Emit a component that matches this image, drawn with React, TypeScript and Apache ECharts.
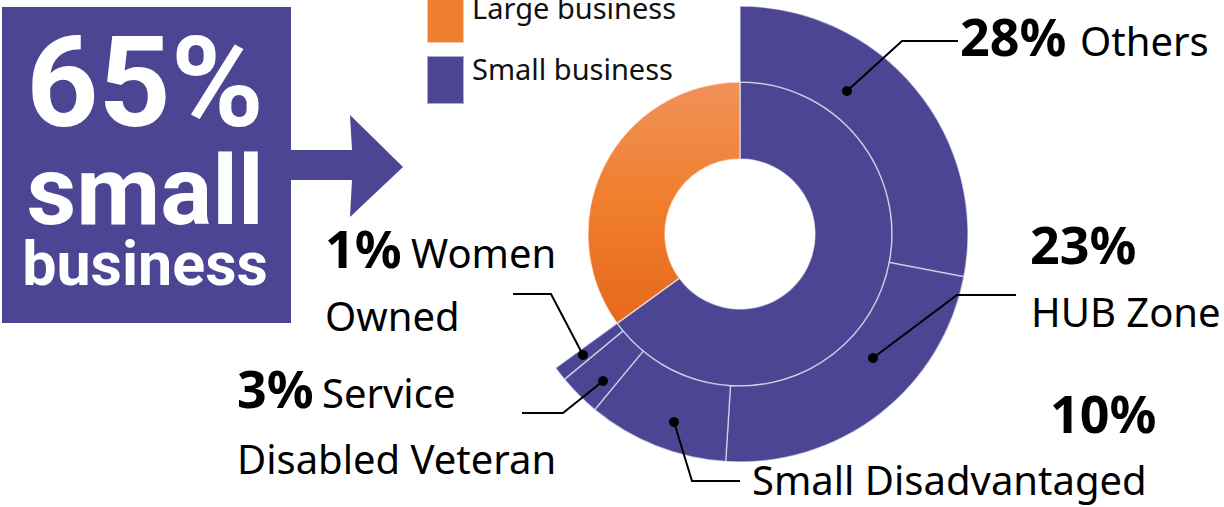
import React, { useEffect, useRef } from "react";
import * as echarts from "echarts";

// ---- data ----
const INNER_NAMES = ["Small business", "Large business"];
const INNER_VALUES = [65, 35];
const OUTER_NAMES = ["Others", "HUB Zone", "Small Disadvantaged", "Service Disabled Veteran", "Women Owned"];
const OUTER_VALUES = [28, 23, 10, 3, 1];
const HEADLINE_VALUE = 65;
const HEADLINE_WORDS = ["small", "business"];

// ---- style / layout ----
const PURPLE = "#4b4594";
const ORANGE = "#ee7f31";
const FONT = "'Noto Sans', sans-serif";
const HEAD_FONT = "Roboto, 'Liberation Sans', sans-serif";
const CX = 740;
const CY = 234;

// label layout per outer category (annotation positions)
const LABEL_LAYOUT = [
  { pct: [960, 55], name: [["Others", 1080, 55]], line: [[847, 91], [902, 41], [958, 41]] },
  { pct: [1030, 263], name: [["HUB Zone", 1031, 326]], line: [[873, 358], [957, 295], [1016, 295]] },
  { pct: [1050, 432], name: [["Small Disadvantaged", 752, 494]], line: [[674, 422], [692, 481], [740, 481]] },
  { pct: [237, 407], name: [["Service", 322, 407], ["Disabled Veteran", 237, 473]], line: [[603, 381], [563, 413], [522, 413]] },
  { pct: [325, 267], name: [["Women", 411, 267], ["Owned", 325, 330]], line: [[583, 355], [551, 294], [513, 294]] },
];

function txt(text: string, x: number, baseline: number, size: number, weight: any, fill: string, family: string, align: string = "left", k = 0.37) {
  return {
    type: "text",
    x,
    y: baseline - k * size,
    z: 100,
    silent: true,
    style: {
      text,
      fontSize: size,
      fontWeight: weight,
      fontFamily: family,
      fill,
      align,
      verticalAlign: "middle",
      lineHeight: Math.round(size * 0.8),
    },
  };
}

export default function App() {
  const ref = useRef<HTMLDivElement>(null);
  useEffect(() => {
    if (!ref.current) return;
    const chart = echarts.init(ref.current, undefined, { renderer: "svg" });
    const largeValue = INNER_VALUES[1];

    const orangeGrad = new echarts.graphic.LinearGradient(0, 0, 0, 1, [
      { offset: 0, color: "#f0925a" },
      { offset: 0.5, color: "#f07e2c" },
      { offset: 1, color: "#e6691b" },
    ]);

    const graphics: any[] = [];
    // headline box + arrow
    graphics.push({ type: "rect", z: 50, shape: { x: 2, y: 7, width: 289, height: 316 }, style: { fill: PURPLE }, silent: true });
    graphics.push({
      type: "polygon",
      z: 50,
      shape: { points: [[290, 150], [352, 150], [350, 115], [403, 167], [350, 217], [352, 180], [290, 180]] },
      style: { fill: PURPLE },
      silent: true,
    });
    graphics.push({
      type: "text",
      x: 145,
      y: 28,
      z: 100,
      silent: true,
      style: {
        text: `{a|${HEADLINE_VALUE}%}\n{b|${HEADLINE_WORDS[0]}}\n{c|${HEADLINE_WORDS[1]}}`,
        align: "center",
        verticalAlign: "top",
        rich: {
          a: { fontSize: 126, fontWeight: 700, fontFamily: HEAD_FONT, fill: "#fff", lineHeight: 110 },
          b: { fontSize: 97, fontWeight: 700, fontFamily: HEAD_FONT, fill: "#fff", lineHeight: 106 },
          c: { fontSize: 61, fontWeight: 700, fontFamily: HEAD_FONT, fill: "#fff", lineHeight: 40 },
        },
      },
    });

    // labels
    LABEL_LAYOUT.forEach((l, i) => {
      graphics.push({
        type: "polyline",
        z: 100,
        shape: { points: l.line },
        style: { stroke: "#000", lineWidth: 2, fill: "none" },
        silent: true,
      });
      graphics.push({ type: "circle", z: 100, shape: { cx: l.line[0][0], cy: l.line[0][1], r: 5 }, style: { fill: "#000" }, silent: true });
      graphics.push(txt(`${OUTER_VALUES[i]}%`, l.pct[0], l.pct[1], 52, 700, "#000", FONT));
      l.name.forEach((n: any) => graphics.push(txt(n[0], n[1], n[2], 40, 400, "#000", FONT)));
    });

    const option: any = {
      animation: false,
      legend: {
        orient: "vertical",
        left: 426,
        top: -7.5,
        padding: 0,
        itemWidth: 37,
        itemHeight: 48,
        itemGap: 8,
        icon: "rect",
        selectedMode: false,
        data: [
          { name: INNER_NAMES[1], itemStyle: { color: ORANGE } },
          { name: INNER_NAMES[0], itemStyle: { color: PURPLE } },
        ],
        formatter: (name: string) => `{t|${name}}`,
        textStyle: {
          rich: {
            t: { fontSize: 29, fontFamily: FONT, color: "#111", padding: [0, 0, 24, 3], lineHeight: 29 },
          },
        },
      },
      series: [
        {
          type: "pie",
          center: [CX, CY],
          radius: [75, 152],
          startAngle: 90,
          clockwise: true,
          silent: true,
          label: { show: false },
          labelLine: { show: false },
          itemStyle: { borderColor: "rgba(255,255,255,0.55)", borderWidth: 1.5 },
          data: INNER_NAMES.map((n, i) => ({
            name: n,
            value: INNER_VALUES[i],
            itemStyle: { color: i === 0 ? PURPLE : orangeGrad },
          })),
        },
        {
          type: "pie",
          center: [CX, CY],
          radius: [152, 228],
          startAngle: 90,
          clockwise: true,
          silent: true,
          label: { show: false },
          labelLine: { show: false },
          itemStyle: { borderColor: "rgba(255,255,255,0.55)", borderWidth: 1.5, color: PURPLE },
          data: [
            ...OUTER_NAMES.map((n, i) => ({ name: n, value: OUTER_VALUES[i] })),
            { name: "_gap", value: largeValue, itemStyle: { color: "transparent", borderWidth: 0 } },
          ],
        },
      ],
      graphic: graphics,
    };
    chart.setOption(option);
    return () => chart.dispose();
  }, []);
  return <div ref={ref} style={{ position: "fixed", left: 0, top: 0, width: 1224, height: 507, background: "#fff" }} />;
}
